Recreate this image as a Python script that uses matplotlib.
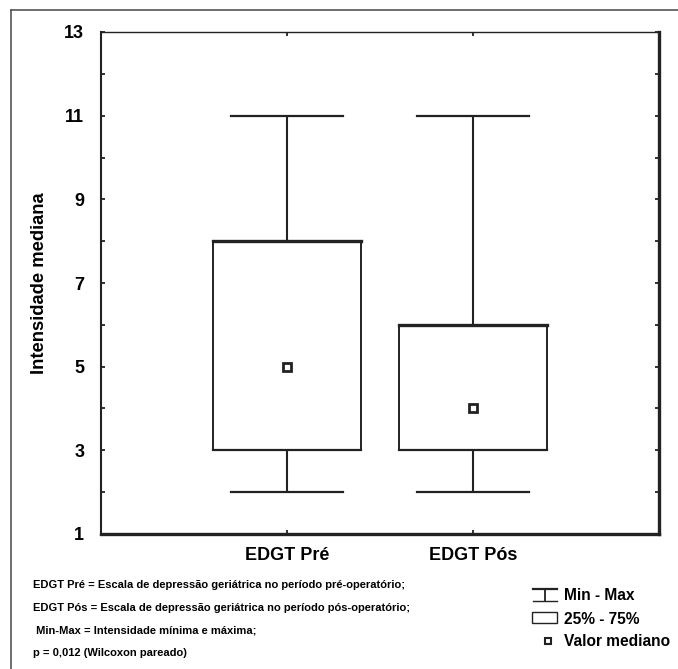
import matplotlib
matplotlib.use("Agg")
import matplotlib.pyplot as plt
from matplotlib.lines import Line2D
from matplotlib.patches import Rectangle

# dados (escala de depressão geriátrica)
categorias = ["EDGT Pré", "EDGT Pós"]
minimos = [2, 2]
q25 = [3, 3]
medianas = [5, 4]
q75 = [8, 6]
maximos = [11, 11]

y_ticks = [1, 3, 5, 7, 9, 11, 13]

notas = [
    "EDGT Pré = Escala de depressão geriátrica no período pré-operatório;",
    "EDGT Pós = Escala de depressão geriátrica no período pós-operatório;",
    " Min-Max = Intensidade mínima e máxima;",
    "p = 0,012 (Wilcoxon pareado)",
]
legenda = ["Min - Max", "25% - 75%", "Valor mediano"]

W, H = 678, 669
plt.rcParams["font.family"] = ["Liberation Sans", "DejaVu Sans"]
plt.rcParams["font.weight"] = "bold"
fig = plt.figure(figsize=(W / 100, H / 100), dpi=100)


def fx(x):
    return x / W


def fy(y):
    return 1 - y / H


cor = "#222222"
ax = fig.add_axes([fx(101), fy(534), (659 - 101) / W, (534 - 32) / H])

xs = [1, 2]
for x, lo, a, m, b, hi in zip(xs, minimos, q25, medianas, q75, maximos):
    # whiskers e caps
    ax.plot([x, x], [b, hi], color=cor, lw=1.5, solid_capstyle="butt")
    ax.plot([x, x], [lo, a], color=cor, lw=1.5, solid_capstyle="butt")
    ax.plot([x - 0.3, x + 0.3], [hi, hi], color=cor, lw=1.6)
    ax.plot([x - 0.3, x + 0.3], [lo, lo], color=cor, lw=1.6)
    # caixa 25%-75%
    ax.add_patch(Rectangle((x - 0.4, a), 0.8, b - a, fill=False, ec=cor, lw=1.4))
    ax.plot([x - 0.4, x + 0.4], [b, b], color=cor, lw=2.4, solid_capstyle="projecting")
    ax.plot([x - 0.4, x + 0.4], [a, a], color=cor, lw=1.6)
    # mediana
    ax.plot(x, m, marker="s", ms=5.5, mfc="white", mec=cor, mew=2)

ax.set_xlim(0, 3)
ax.set_ylim(1, 13)
ax.set_xticks(xs)
ax.set_xticklabels(categorias, fontsize=13, fontweight="bold")
ax.set_yticks(y_ticks)
ax.set_yticks(range(1, 14), minor=True)
ax.set_yticklabels([str(v) for v in y_ticks], fontsize=13, fontweight="bold")
ax.tick_params(axis="both", which="both", direction="in", length=3, width=1.3,
               color=cor, top=True, right=True)
ax.tick_params(axis="y", which="major", pad=12)
ax.tick_params(axis="x", which="major", pad=9)
fig.text(fx(40), fy(283), "Intensidade mediana", rotation=90, fontsize=13.2,
         fontweight="bold", ha="center", va="center")

ax.spines["top"].set_linewidth(1.0)
ax.spines["left"].set_linewidth(1.5)
ax.spines["right"].set_linewidth(2.4)
ax.spines["bottom"].set_linewidth(2.4)
for s in ax.spines.values():
    s.set_color(cor)

# moldura externa
fig.add_artist(Line2D([fx(11), fx(11)], [fy(10), fy(H)], color="#555555", lw=1.2))
fig.add_artist(Line2D([fx(11), fx(W)], [fy(10), fy(10)], color="#555555", lw=1.2))

# notas de rodapé
for i, nota in enumerate(notas):
    fig.text(fx(33), fy(585 + 22.7 * i), nota, fontsize=8, fontweight="bold",
             va="center", ha="left")

# legenda manual
fig.add_artist(Line2D([fx(533), fx(557)], [fy(589), fy(589)], color=cor, lw=1.6))
fig.add_artist(Line2D([fx(545), fx(545)], [fy(589), fy(601)], color=cor, lw=1.3))
fig.add_artist(Line2D([fx(533), fx(557)], [fy(601), fy(601)], color=cor, lw=1.0))
fig.add_artist(Rectangle((fx(532), fy(623)), fx(557) - fx(532), fy(612) - fy(623),
                         transform=fig.transFigure, fill=False, ec=cor, lw=1.0))
fig.add_artist(Line2D([fx(548)], [fy(641)], marker="s", ms=4, mfc="white", mec=cor, mew=1.5))
for txt, y in zip(legenda, [596, 619, 641]):
    fig.text(fx(564), fy(y), txt, fontsize=11.2, fontweight="bold", va="center", ha="left")

fig.savefig("out.png", dpi=100, facecolor="white")
